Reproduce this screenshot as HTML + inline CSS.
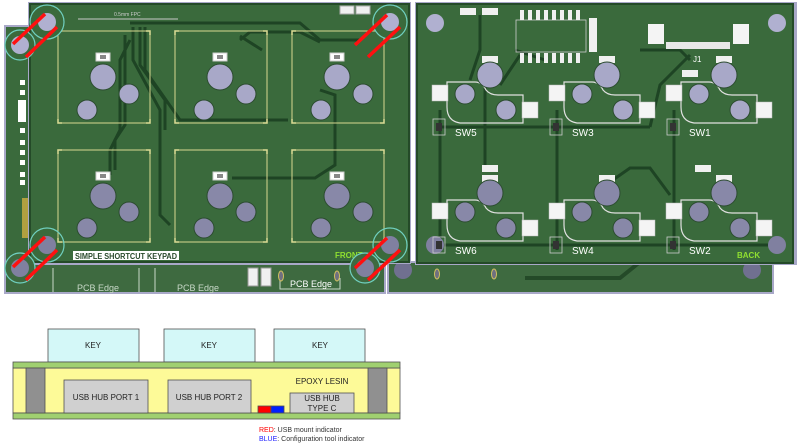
<!DOCTYPE html>
<html><head><meta charset="utf-8"><style>
html,body{margin:0;padding:0;background:#fff;}
svg{display:block;font-family:"Liberation Sans",sans-serif;}
</style></head><body>
<svg width="800" height="445" viewBox="0 0 800 445" xmlns="http://www.w3.org/2000/svg">
<defs>
<g id="fkey">
  <path d="M0,4 V0 H4 M88,0 H92 V4 M92,88 V92 H88 M4,92 H0 V88" stroke="#e8e8a0" stroke-width="1.5" fill="none"/>
  <rect x="0" y="0" width="92" height="92" fill="none" stroke="#d8d890" stroke-width="1"/>
  <rect x="38" y="22" width="14" height="8" fill="#fff" stroke="#ccc" stroke-width="1"/>
  <rect x="42" y="24" width="6" height="4" fill="#888"/>
</g>
<g id="sw">
  <path d="M15,-3 H43 Q50,-3 54,5 Q58,10 66,10 H91 V38 H28 Q15,36 15,22 Z" fill="none" stroke="#e0e0e0" stroke-width="1.2"/>
  <rect x="0" y="0" width="16" height="16" fill="#f4f4f4" stroke="#bbb" stroke-width="0.5"/>
  <rect x="90" y="17" width="16" height="16" fill="#f4f4f4" stroke="#bbb" stroke-width="0.5"/>
  <rect x="1" y="34" width="12" height="16" fill="none" stroke="#ccc" stroke-width="0.8"/>
  <rect x="4" y="38" width="6" height="8" fill="#333"/>
</g>
</defs>

<rect x="5" y="26" width="30" height="240" fill="#3a6a3c" stroke="#a8a8c8" stroke-width="2"/>
<g fill="#fff"><rect x="20" y="80" width="5" height="5"/><rect x="20" y="90" width="5" height="5"/><rect x="18" y="100" width="8" height="22"/><rect x="20" y="128" width="5" height="5"/><rect x="20" y="140" width="5" height="5"/><rect x="20" y="150" width="5" height="5"/><rect x="20" y="160" width="5" height="5"/><rect x="20" y="172" width="5" height="5"/><rect x="20" y="180" width="5" height="5"/></g>
<rect x="22" y="198" width="6" height="40" fill="#b0a040"/>
<rect x="5" y="264" width="380" height="29" fill="#3e6a40" stroke="#a8a8c8" stroke-width="2"/>
<g stroke="#c8d8c8" stroke-width="1" fill="none"><line x1="53" y1="268" x2="53" y2="292"/><line x1="139" y1="268" x2="139" y2="292"/><line x1="155" y1="268" x2="155" y2="292"/><path d="M280,278 V289 H340 V278"/></g>
<g fill="#c8d8c8" font-size="9"><text x="77" y="291">PCB Edge</text><text x="177" y="291">PCB Edge</text><text x="290" y="287" fill="#fff">PCB Edge</text></g>
<rect x="248" y="268" width="10" height="18" fill="#f0f0f0" stroke="#999"/><rect x="261" y="268" width="10" height="18" fill="#f0f0f0" stroke="#999"/>
<ellipse cx="281" cy="276" rx="2.5" ry="5" fill="#707080" stroke="#d0c060"/><ellipse cx="337" cy="276" rx="2.5" ry="5" fill="#707080" stroke="#d0c060"/>

<rect x="388" y="262" width="385" height="31" fill="#3e6a40" stroke="#a8a8c8" stroke-width="2"/>
<circle cx="403" cy="270" r="9" fill="#707090"/><circle cx="752" cy="270" r="9" fill="#707090"/>
<ellipse cx="437" cy="274" rx="2.5" ry="5" fill="#707080" stroke="#d0c060"/><ellipse cx="494" cy="274" rx="2.5" ry="5" fill="#707080" stroke="#d0c060"/>
<path d="M525,278 H620 L640,262" stroke="#244a28" stroke-width="4" fill="none"/>

<rect x="28" y="2" width="383" height="262" fill="#a8a8c8"/>
<rect x="30" y="4" width="379" height="258" fill="#3a6a3c" stroke="#244a28" stroke-width="2"/>
<g stroke="#1e4424" stroke-width="3" fill="none">
<path d="M130,23 H300 L320,40 H360"/><path d="M133,27 V60 L160,110 V215 L170,225"/><path d="M140,27 V65 L165,100 V130"/><path d="M145,27 V70 L180,120 H288"/><path d="M130,40 L120,60 V130 L110,150 V175"/><path d="M125,35 V125 L115,140 V170"/>
<path d="M320,90 L335,95 V165 L315,178 H232"/><path d="M240,40 L250,32 H300 L320,42"/><path d="M240,36 L262,50"/>
</g>
<rect x="340" y="6" width="14" height="8" fill="#f0f0f0" stroke="#aaa"/><rect x="356" y="6" width="14" height="8" fill="#f0f0f0" stroke="#aaa"/>
<line x1="78" y1="19" x2="178" y2="19" stroke="#c8c8c8" stroke-width="1"/>
<text x="114" y="16" font-size="5" fill="#ccc">0.5mm FPC</text>
<g>
<use href="#fkey" x="58" y="31"/><use href="#fkey" x="175" y="31"/><use href="#fkey" x="292" y="31"/>
<use href="#fkey" x="58" y="150"/><use href="#fkey" x="175" y="150"/><use href="#fkey" x="292" y="150"/>
</g>
<g fill="#a8a8c8" stroke="#2c4c30" stroke-width="1">
<circle cx="103" cy="77" r="13"/><circle cx="129" cy="94" r="10"/><circle cx="87" cy="110" r="10"/>
<circle cx="220" cy="77" r="13"/><circle cx="246" cy="94" r="10"/><circle cx="204" cy="110" r="10"/>
<circle cx="337" cy="77" r="13"/><circle cx="363" cy="94" r="10"/><circle cx="321" cy="110" r="10"/>
</g>
<g fill="#8888a8" stroke="#2c4c30" stroke-width="1">
<circle cx="103" cy="196" r="13"/><circle cx="129" cy="212" r="10"/><circle cx="87" cy="228" r="10"/>
<circle cx="220" cy="196" r="13"/><circle cx="246" cy="212" r="10"/><circle cx="204" cy="228" r="10"/>
<circle cx="337" cy="196" r="13"/><circle cx="363" cy="212" r="10"/><circle cx="321" cy="228" r="10"/>
</g>
<rect x="73" y="251" width="106" height="9" fill="#fff"/>
<text x="75" y="259" font-size="8" font-weight="bold" fill="#2a4a2c" textLength="102" lengthAdjust="spacingAndGlyphs">SIMPLE SHORTCUT KEYPAD</text>
<text x="335" y="258" font-size="8" font-weight="bold" fill="#90e030">FRONT</text>
<g stroke="#70d0c0" stroke-width="1.2">
<circle cx="47" cy="22" r="17" fill="#3a6a3c"/><circle cx="47" cy="22" r="9" fill="#b0b0d0" stroke="none"/>
<circle cx="20" cy="45" r="15" fill="#3a6a3c"/><circle cx="20" cy="45" r="9" fill="#b0b0d0" stroke="none"/>
<circle cx="390" cy="22" r="17" fill="#3a6a3c"/><circle cx="390" cy="22" r="9" fill="#b0b0d0" stroke="none"/>
<circle cx="47" cy="245" r="17" fill="none"/><circle cx="47" cy="245" r="9" fill="#8080a0" stroke="none"/>
<circle cx="20" cy="268" r="15" fill="#3e6a40"/><circle cx="20" cy="268" r="9" fill="#8080a0" stroke="none"/>
<circle cx="390" cy="245" r="17" fill="none"/><circle cx="390" cy="245" r="9" fill="#8080a0" stroke="none"/>
<circle cx="365" cy="268" r="15" fill="#3e6a40"/><circle cx="365" cy="268" r="9" fill="#8080a0" stroke="none"/>
</g>
<g stroke="#ff1010" stroke-width="3.5">
<line x1="13" y1="44" x2="45" y2="14"/><line x1="26" y1="57" x2="57" y2="27"/>
<line x1="355" y1="45" x2="387" y2="15"/><line x1="368" y1="57" x2="400" y2="27"/>
<line x1="13" y1="267" x2="45" y2="237"/><line x1="26" y1="280" x2="57" y2="250"/>
<line x1="355" y1="268" x2="387" y2="238"/><line x1="368" y1="280" x2="400" y2="250"/>
</g>

<rect x="415" y="2" width="382" height="263" fill="#a8a8c8"/>
<rect x="417" y="4" width="376" height="259" fill="#3a6a3c" stroke="#244a28" stroke-width="2"/>
<g stroke="#1e4424" stroke-width="3" fill="none">
<path d="M480,15 V50 L470,80"/><path d="M440,110 V250"/><path d="M557,110 V250"/><path d="M674,110 V250"/>
<path d="M440,127 H650"/><path d="M440,245 H770"/><path d="M485,60 V170"/>
<path d="M640,50 H680 L690,60"/><path d="M650,127 L660,85 L690,55"/><path d="M610,182 L630,168 H650 L670,195"/>
<path d="M515,50 L545,60"/><path d="M520,55 L500,85"/>
</g>
<circle cx="435" cy="23" r="9" fill="#b0b0d0"/><circle cx="777" cy="23" r="9" fill="#b0b0d0"/>
<circle cx="435" cy="245" r="9" fill="#8080a0"/><circle cx="777" cy="245" r="9" fill="#8080a0"/>
<rect x="516" y="20" width="70" height="32" fill="none" stroke="#ccc" stroke-width="0.8"/>
<g fill="#f0f0f0"><rect x="520" y="10" width="4" height="10"/><rect x="528" y="10" width="4" height="10"/><rect x="536" y="10" width="4" height="10"/><rect x="544" y="10" width="4" height="10"/><rect x="552" y="10" width="4" height="10"/><rect x="560" y="10" width="4" height="10"/><rect x="568" y="10" width="4" height="10"/><rect x="576" y="10" width="4" height="10"/>
<rect x="520" y="53" width="4" height="10"/><rect x="528" y="53" width="4" height="10"/><rect x="536" y="53" width="4" height="10"/><rect x="544" y="53" width="4" height="10"/><rect x="552" y="53" width="4" height="10"/><rect x="560" y="53" width="4" height="10"/><rect x="568" y="53" width="4" height="10"/><rect x="576" y="53" width="4" height="10"/></g>
<g fill="#f0f0f0"><rect x="460" y="8" width="16" height="7"/><rect x="482" y="8" width="16" height="7"/><rect x="589" y="18" width="8" height="34"/></g>
<rect x="648" y="24" width="16" height="20" fill="#f4f4f4"/><rect x="733" y="24" width="16" height="20" fill="#f4f4f4"/>
<rect x="666" y="42" width="64" height="7" fill="#e8e8e8"/>
<text x="693" y="62" font-size="8" fill="#fff">J1</text>
<g fill="#f0f0f0"><rect x="482" y="56" width="16" height="7"/><rect x="599" y="56" width="16" height="7"/><rect x="716" y="56" width="16" height="7"/><rect x="682" y="70" width="16" height="7"/>
<rect x="482" y="165" width="16" height="7"/><rect x="482" y="175" width="16" height="7"/><rect x="599" y="175" width="16" height="7"/><rect x="716" y="175" width="16" height="7"/><rect x="695" y="165" width="16" height="7"/></g>
<use href="#sw" x="432" y="85"/><use href="#sw" x="549" y="85"/><use href="#sw" x="666" y="85"/>
<use href="#sw" x="432" y="203"/><use href="#sw" x="549" y="203"/><use href="#sw" x="666" y="203"/>
<g fill="#a8a8c8" stroke="#2c4c30" stroke-width="1">
<circle cx="490" cy="75" r="13"/><circle cx="465" cy="94" r="10"/><circle cx="506" cy="110" r="10"/>
<circle cx="607" cy="75" r="13"/><circle cx="582" cy="94" r="10"/><circle cx="623" cy="110" r="10"/>
<circle cx="724" cy="75" r="13"/><circle cx="699" cy="94" r="10"/><circle cx="740" cy="110" r="10"/>
</g>
<g fill="#8888a8" stroke="#2c4c30" stroke-width="1">
<circle cx="490" cy="193" r="13"/><circle cx="465" cy="212" r="10"/><circle cx="506" cy="228" r="10"/>
<circle cx="607" cy="193" r="13"/><circle cx="582" cy="212" r="10"/><circle cx="623" cy="228" r="10"/>
<circle cx="724" cy="193" r="13"/><circle cx="699" cy="212" r="10"/><circle cx="740" cy="228" r="10"/>
</g>
<g fill="#fff" font-size="10"><text x="455" y="136">SW5</text><text x="572" y="136">SW3</text><text x="689" y="136">SW1</text>
<text x="455" y="254">SW6</text><text x="572" y="254">SW4</text><text x="689" y="254">SW2</text></g>
<text x="737" y="258" font-size="8" font-weight="bold" fill="#90e030">BACK</text>

<g stroke="#505050" stroke-width="0.8">
<rect x="48" y="329" width="91" height="33" fill="#d4f8f8"/>
<rect x="164" y="329" width="91" height="33" fill="#d4f8f8"/>
<rect x="274" y="329" width="91" height="33" fill="#d4f8f8"/>
<rect x="13" y="368" width="387" height="45" fill="#fdfa98"/>
<rect x="13" y="362" width="387" height="6" fill="#a0d070"/>
<rect x="13" y="413" width="387" height="6" fill="#a0d070"/>
<rect x="26" y="368" width="19" height="45" fill="#909090"/>
<rect x="368" y="368" width="19" height="45" fill="#909090"/>
<rect x="64" y="380" width="84" height="33" fill="#d0d0d0"/>
<rect x="168" y="380" width="83" height="33" fill="#d0d0d0"/>
<rect x="290" y="393" width="64" height="20" fill="#d0d0d0"/>
<rect x="258" y="406" width="13" height="7" fill="#ff0000"/>
<rect x="271" y="406" width="13" height="7" fill="#0020ff"/>
</g>
<g font-size="8" fill="#222" text-anchor="middle">
<text x="93" y="348">KEY</text><text x="209" y="348">KEY</text><text x="320" y="348">KEY</text>
<text x="106" y="400">USB HUB PORT 1</text><text x="209" y="400">USB HUB PORT 2</text>
<text x="322" y="384">EPOXY LESIN</text>
<text x="322" y="401">USB HUB</text><text x="322" y="411">TYPE C</text>
</g>
<g font-size="7" fill="#333">
<text x="259" y="432"><tspan fill="#ff0000">RED</tspan>: USB mount indicator</text>
<text x="259" y="441"><tspan fill="#2020ff">BLUE</tspan>: Configuration tool indicator</text>
</g>
</svg>
</body></html>
